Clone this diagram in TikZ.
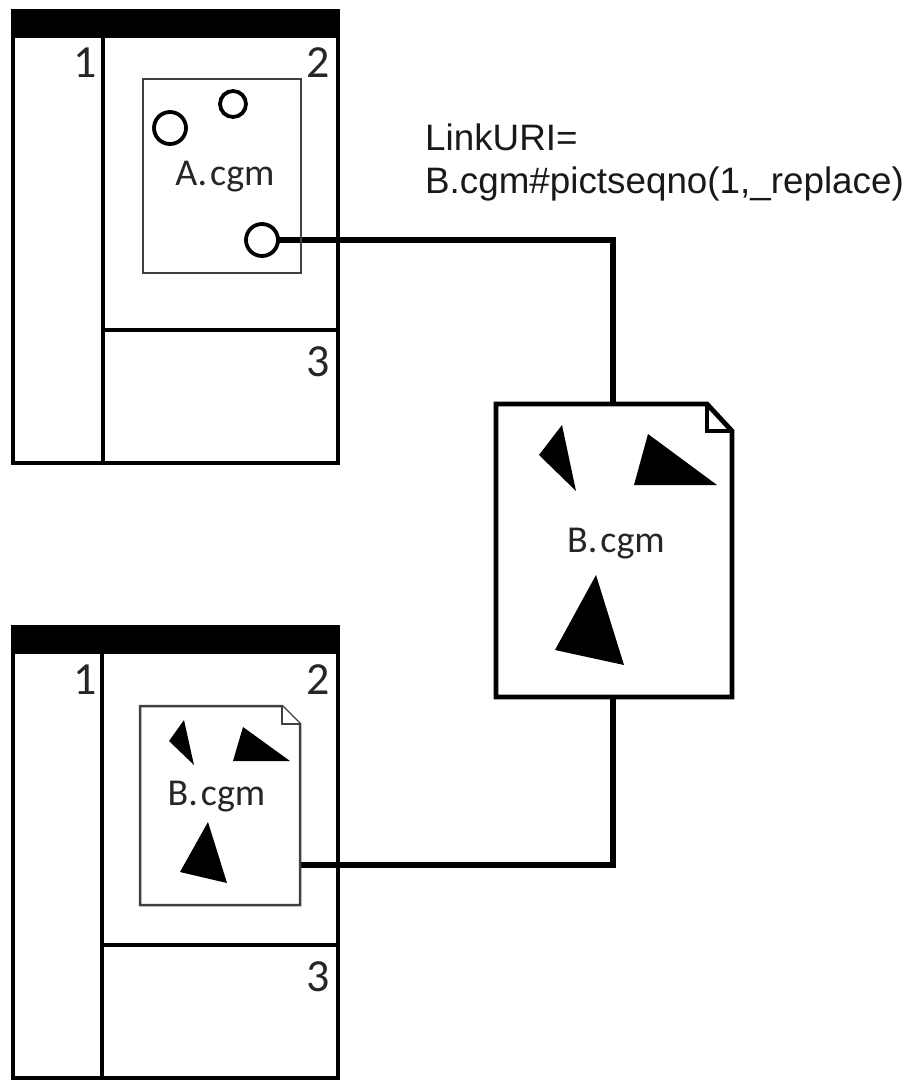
\documentclass[tikz,border=0pt]{standalone}
\usepackage{fontspec}
\setmainfont{Carlito}
\newfontfamily\arialfont{Liberation Sans}
\tikzset{
  frameline/.style={draw=black,line width=4.8pt,line join=miter},
  thinbox/.style={draw=black!75,line width=2.5pt,fill=white},
  hotspot/.style={circle,draw=black,line width=3.8pt,fill=white,inner sep=0pt},
  wire/.style={draw=black,line width=5.4pt,line join=miter},
  glyph/.style={fill=black,draw=none},
  numlabel/.style={inner sep=0pt,anchor=base,font=\fontsize{46}{46}\selectfont,text=black!85},
  cgmbig/.style={inner sep=0pt,anchor=base,font=\fontsize{38}{38}\selectfont,text=black!85},
  urilabel/.style={inner sep=0pt,anchor=base west,font=\arialfont\fontsize{36.8}{36.8}\selectfont,text=black!90},
}
\begin{document}
\begin{tikzpicture}[x=1pt,y=-1pt]
\useasboundingbox (0,0) rectangle (909,1080);
% connectors first
\coordinate (btop) at (613,404);
\coordinate (bbot) at (613,697);
\coordinate (swire) at (300,865);
\coordinate (ahot) at (262,240);
\draw[wire] (ahot) -- (ahot -| btop) -- (btop);
\draw[wire] (bbot) -- (bbot |- swire) -- (swire);
% top window
\fill (11,9) rectangle (340,38);
\draw[frameline] (13,38) -- (13,463) -- (338,463) -- (338,38);
\draw[frameline] (103,38) -- (103,463);
\draw[frameline] (103,330) -- (338,330);
\node[numlabel] (a1) at (85,77) {1};
\node[numlabel] (a2) at (318,77) {2};
\node[numlabel] (a3) at (318,376) {3};
% bottom window
\fill (11,625) rectangle (340,654);
\draw[frameline] (13,654) -- (13,1078) -- (338,1078) -- (338,654);
\draw[frameline] (102,654) -- (102,1078);
\draw[frameline] (102,945) -- (338,945);
\node[numlabel] (b1) at (85,694) {1};
\node[numlabel] (b2) at (318,694) {2};
\node[numlabel] (b3) at (318,991) {3};
% A.cgm box
\draw[thinbox,fill=none] (143,79) rectangle (301,273);
\node[hotspot,minimum size=32pt] (c1) at (170,128) {};
\node[hotspot,minimum size=26pt] (c2) at (233,104) {};
\node[hotspot,minimum size=32pt] (c3) at (ahot) {};
\node[cgmbig] (acgm) at (225,185) {A.\kern3pt cgm};
% B.cgm document
\draw[draw=black,line width=4.8pt,fill=white,line join=miter] (496,404) -- (707,404) -- (732,431) -- (732,697) -- (496,697) -- cycle;
\draw[draw=black,line width=4.8pt,line join=miter] (707,404) -- (707,431) -- (732,431);
\fill[glyph] (562,425) -- (539,455) -- (576,491) -- cycle;
\fill[glyph] (648,434) -- (634,485) -- (717,485) -- cycle;
\fill[glyph] (596,575) -- (555,650) -- (624,665) -- cycle;
\node[cgmbig] (bcgm) at (616,552) {B.\kern3pt cgm};
% small document
\draw[thinbox] (140,706) -- (282,706) -- (300,724) -- (300,905) -- (140,905) -- cycle;
\draw[thinbox] (282,706) -- (282,724) -- (300,724);
\fill[glyph] (184,720) -- (169,741) -- (194,765) -- cycle;
\fill[glyph] (243,727) -- (233,761) -- (290,761) -- cycle;
\fill[glyph] (208,822) -- (180,872) -- (227,883) -- cycle;
\node[cgmbig] (scgm) at (216.5,805) {B.\kern3pt cgm};
% link label
\node[urilabel] (uri1) at (425,150.5) {LinkURI=};
\node[urilabel] (uri2) at (425,193) {B.cgm\#pictseqno(1,\_replace)};
\end{tikzpicture}
\end{document}
